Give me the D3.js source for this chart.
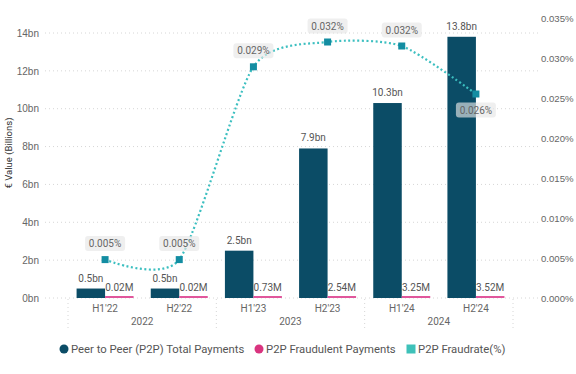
<!DOCTYPE html>
<html><head><meta charset="utf-8">
<script src="https://cdn.jsdelivr.net/npm/d3@7"></script>
<style>
html,body{margin:0;padding:0;background:#fff;}
svg{display:block;font-family:Roboto,"Noto Sans",sans-serif;}
</style></head>
<body><svg id="c" width="576" height="374"></svg>
<script>
const categories = ["H1'22","H2'22","H1'23","H2'23","H1'24","H2'24"];
const years = ["2022","2023","2024"];
const totalPayments = [0.5, 0.5, 2.5, 7.9, 10.3, 13.8];           // € bn
const totalLabels = ["0.5bn","0.5bn","2.5bn","7.9bn","10.3bn","13.8bn"];
const fraudPayments = [0.02, 0.02, 0.73, 2.54, 3.25, 3.52];        // € M
const fraudLabels = ["0.02M","0.02M","0.73M","2.54M","3.25M","3.52M"];
const fraudRate = [0.0048, 0.0048, 0.0289, 0.0320, 0.0315, 0.0255]; // %
const rateLabels = ["0.005%","0.005%","0.029%","0.032%","0.032%","0.026%"];
const leftTicks = [0,2,4,6,8,10,12,14];
const rightTicks = [0,0.005,0.010,0.015,0.020,0.025,0.030,0.035];

const C_TOTAL = "#0B4C66", C_FRAUD = "#E0579C", C_RATE = "#3CBFC0", C_MARK = "#138DA2";
const FS = "10px";
const svg = d3.select("#c");

const x = d3.scaleBand().domain(categories).range([68, 513]).paddingInner(0).paddingOuter(0);
const y = d3.scaleLinear().domain([0, 14]).range([298, 33]);
const yr = d3.scaleLinear().domain([0, 0.035]).range([298, 18]);
const barW = 28.5;

// gridlines
svg.append("g").selectAll("line").data(leftTicks).join("line")
  .attr("x1", 45).attr("x2", 538).attr("y1", d => y(d)).attr("y2", d => y(d))
  .attr("stroke", "#d6d6d6").attr("stroke-width", 1).attr("stroke-dasharray", "1,3");

// left axis
const gl = svg.append("g").attr("transform", "translate(39,0)")
  .call(d3.axisLeft(y).tickValues(leftTicks).tickFormat(d => d + "bn").tickSize(0).tickPadding(0));
gl.select(".domain").remove();
gl.selectAll("text").attr("fill", "#666").style("font-size", FS).style("font-family", "inherit");

// right axis
const gr = svg.append("g").attr("transform", "translate(541,0)")
  .call(d3.axisRight(yr).tickValues(rightTicks).tickFormat(d => d3.format(".3f")(d) + "%").tickSize(0).tickPadding(0));
gr.select(".domain").remove();
gr.selectAll("text").attr("fill", "#666").style("font-size", "9.6px").style("font-family", "inherit");

// y title
svg.append("text").attr("transform", "translate(12,153) rotate(-90)")
  .attr("text-anchor", "middle").attr("fill", "#333").style("font-size", "9.5px")
  .text("€ Value (Billions)");

// bars
const cx = c => x(c) + x.bandwidth() / 2;
svg.append("g").selectAll("rect").data(categories).join("rect")
  .attr("x", d => cx(d) - barW).attr("width", barW)
  .attr("y", (d, i) => y(totalPayments[i])).attr("height", (d, i) => y(0) - y(totalPayments[i]))
  .attr("fill", C_TOTAL);
// fraud bars (values in M, on bn scale they are near zero -> min visible height)
svg.append("g").selectAll("rect").data(categories).join("rect")
  .attr("x", d => cx(d)).attr("width", barW)
  .attr("y", (d, i) => Math.min(y(fraudPayments[i] / 1000), y(0) - 2))
  .attr("height", (d, i) => Math.max(y(0) - y(fraudPayments[i] / 1000), 2))
  .attr("fill", C_FRAUD);

// bar labels
svg.append("g").selectAll("text").data(categories).join("text")
  .attr("x", d => cx(d) - barW / 2).attr("y", (d, i) => y(totalPayments[i]) - 7)
  .attr("text-anchor", "middle").attr("fill", "#555").style("font-size", FS)
  .text((d, i) => totalLabels[i]);
svg.append("g").selectAll("text").data(categories).join("text")
  .attr("x", d => cx(d) + barW / 2).attr("y", 291)
  .attr("text-anchor", "middle").attr("fill", "#555").style("font-size", FS)
  .text((d, i) => fraudLabels[i]);

// x axis category labels
svg.append("g").selectAll("text").data(categories).join("text")
  .attr("x", d => cx(d)).attr("y", 312).attr("text-anchor", "middle")
  .attr("fill", "#666").style("font-size", FS).text(d => d);
// year separators
const sepX = [x(categories[0]), x(categories[2]), x(categories[4]), x(categories[5]) + x.bandwidth()];
svg.append("g").selectAll("line").data(sepX).join("line")
  .attr("x1", d => d).attr("x2", d => d).attr("y1", 299).attr("y2", 331)
  .attr("stroke", "#d6d6d6").attr("stroke-dasharray", "1,3");
svg.append("g").selectAll("text").data(years).join("text")
  .attr("x", (d, i) => (x(categories[i * 2]) + x(categories[i * 2 + 1]) + x.bandwidth()) / 2)
  .attr("y", 325).attr("text-anchor", "middle").attr("fill", "#666").style("font-size", FS).text(d => d);

// rate line
const pts = categories.map((c, i) => [cx(c), yr(fraudRate[i])]);
svg.append("path").datum(pts)
  .attr("d", d3.line().curve(d3.curveCardinal.tension(0.3)))
  .attr("fill", "none").attr("stroke", C_RATE).attr("stroke-width", 2.2)
  .attr("stroke-dasharray", "2,2.5");
svg.append("g").selectAll("rect").data(pts).join("rect")
  .attr("x", d => d[0] - 3.5).attr("y", d => d[1] - 3.5).attr("width", 7).attr("height", 7)
  .attr("fill", C_MARK);

// rate labels
const lg = svg.append("g").selectAll("g").data(pts).join("g")
  .attr("transform", (d, i) => `translate(${d[0]},${d[1] + (i === 5 ? 16 : -16)})`);
lg.append("rect").attr("x", -20).attr("y", -7.5).attr("width", 40).attr("height", 15).attr("rx", 3)
  .attr("fill", "#e6e6e6").attr("fill-opacity", 0.65);
lg.append("text").attr("y", 3.6).attr("text-anchor", "middle").attr("fill", "#666")
  .style("font-size", FS).text((d, i) => rateLabels[i]);

// legend
const legend = [
  {t: "Peer to Peer (P2P) Total Payments", c: C_TOTAL, s: "circle"},
  {t: "P2P Fraudulent Payments", c: "#D9347F", s: "circle"},
  {t: "P2P Fraudrate(%)", c: "#3EC1B9", s: "square"}
];
const legX = [64, 259, 411];
const lgg = svg.append("g").selectAll("g").data(legend).join("g")
  .attr("transform", (d, i) => `translate(${legX[i]},349)`);
lgg.filter(d => d.s === "circle").append("circle").attr("r", 4.5).attr("fill", d => d.c);
lgg.filter(d => d.s === "square").append("rect").attr("x", -4.5).attr("y", -4.5).attr("width", 9).attr("height", 9).attr("fill", d => d.c);
lgg.append("text").attr("x", 7).attr("y", 4.2).attr("fill", "#555").style("font-size", "11.3px").text(d => d.t);
</script></body></html>
